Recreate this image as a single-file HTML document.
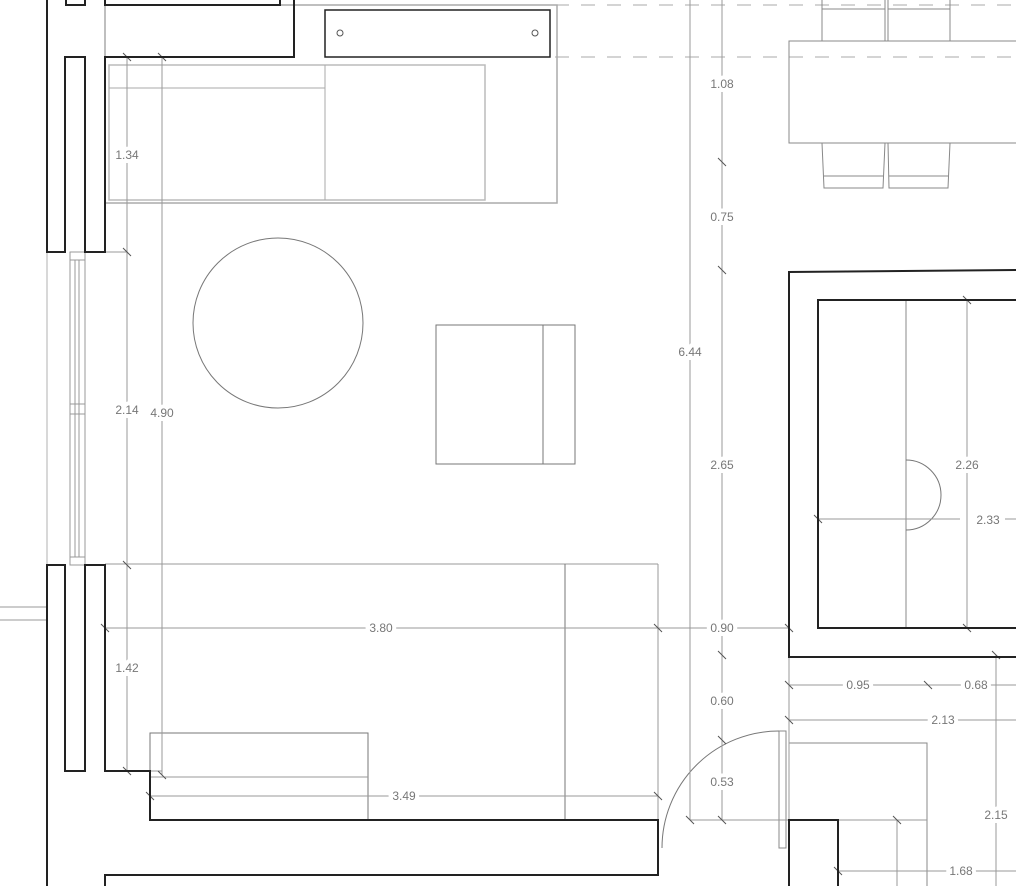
<!DOCTYPE html>
<html><head><meta charset="utf-8"><style>
html,body{margin:0;padding:0;background:#fff;}
svg{display:block}
text{font-family:"Liberation Sans",sans-serif;font-size:12px;fill:#777;text-anchor:middle;dominant-baseline:central;paint-order:stroke;stroke:#fff;stroke-width:8px;}
</style></head><body>
<svg width="1016" height="886" viewBox="0 0 1016 886" xmlns="http://www.w3.org/2000/svg">
<g fill="none" stroke="#999" stroke-width="1">
  <!-- dashed -->
  <line x1="555" y1="5" x2="1016" y2="5" stroke-dasharray="14,12" stroke="#aaa"/>
  <line x1="555" y1="57" x2="1016" y2="57" stroke-dasharray="14,12" stroke="#aaa"/>
  <line x1="294" y1="5" x2="555" y2="5"/>
  <!-- sofa -->
  <rect x="105" y="5" width="452" height="198" stroke="#aaa" stroke-width="1.5"/>
  <rect x="109" y="65" width="376" height="135" stroke="#bbb" stroke-width="1.5"/>
  <line x1="325" y1="65" x2="325" y2="200" stroke="#aaa"/>
  <line x1="109" y1="88" x2="325" y2="88" stroke="#aaa"/>
  <!-- circle table -->
  <circle cx="278" cy="323" r="85" stroke="#777"/>
  <!-- chair -->
  <rect x="436" y="325" width="139" height="139" stroke="#777"/>
  <line x1="543" y1="325" x2="543" y2="464" stroke="#777"/>
  <!-- bottom sofa -->
  <line x1="105" y1="564" x2="658" y2="564"/>
  <line x1="658" y1="564" x2="658" y2="820"/>
  <line x1="565" y1="564" x2="565" y2="820" stroke="#777"/>
  <rect x="150" y="733" width="218" height="87" stroke="#777"/>
  <line x1="150" y1="777" x2="368" y2="777"/>
  <!-- window -->
  <line x1="47" y1="252" x2="47" y2="565" stroke="#ccc" stroke-width="1.5"/>
  <rect x="70" y="252" width="15" height="313" stroke="#999"/>
  <line x1="75" y1="260" x2="75" y2="557"/><line x1="79" y1="260" x2="79" y2="557"/>
  <line x1="70" y1="260" x2="85" y2="260"/><line x1="70" y1="557" x2="85" y2="557"/>
  <line x1="70" y1="404" x2="85" y2="404"/><line x1="70" y1="414" x2="85" y2="414"/>
  <line x1="0" y1="607" x2="47" y2="607"/><line x1="0" y1="620" x2="47" y2="620"/>
  <!-- dining -->
  <rect x="789" y="41" width="240" height="102" stroke="#888"/>
  <path d="M822,0 V9 H885 V0 M822,9 L822,41 M885,9 L885,41 M888,0 V9 H950 V0 M888,9 L888,41 M950,9 L950,41" stroke="#888"/>
  <path d="M822,143 L824,188 H883 L885,143 M824,176 H883 M888,143 L889,188 H948 L950,143 M889,176 H948" stroke="#888"/>
  <!-- right room -->
  <line x1="906" y1="300" x2="906" y2="628" stroke="#888"/>
  <path d="M906,460 A35,35 0 0 1 906,530" stroke="#777"/>
  <line x1="818" y1="519" x2="960" y2="519"/>
  <line x1="1005" y1="519" x2="1016" y2="519"/>
  <line x1="967" y1="300" x2="967" y2="628"/>
  <!-- door -->
  <rect x="779" y="731" width="7" height="117" stroke="#888"/>
  <path d="M779,731 A117,117 0 0 0 662,848" stroke="#777"/>
  <rect x="789" y="743" width="138" height="77" stroke="#888"/>
  <line x1="927" y1="820" x2="927" y2="886" stroke="#888"/>
  <line x1="690" y1="820" x2="927" y2="820"/>
  <line x1="789" y1="657" x2="789" y2="820"/>
  <!-- dimension lines -->
  <line x1="127" y1="57" x2="127" y2="771"/>
  <line x1="162" y1="57" x2="162" y2="775"/>
  <line x1="690" y1="0" x2="690" y2="820"/>
  <line x1="722" y1="0" x2="722" y2="820"/>
  <line x1="105" y1="628" x2="789" y2="628"/>
  <line x1="150" y1="796" x2="658" y2="796"/>
  <line x1="789" y1="685" x2="1016" y2="685"/>
  <line x1="789" y1="720" x2="1016" y2="720"/>
  <line x1="996" y1="655" x2="996" y2="886"/>
  <line x1="838" y1="871" x2="1016" y2="871"/>
  <line x1="897" y1="820" x2="897" y2="886"/>
  <line x1="105" y1="252" x2="127" y2="252"/>
  <line x1="105" y1="771" x2="162" y2="771"/>
</g>
<!-- ticks -->
<g stroke="#555" stroke-width="1">
  <path d="M123,53 l8,8 M158,53 l8,8 M123,248 l8,8 M123,561 l8,8 M123,767 l8,8 M158,771 l8,8
  M718,158 l8,8 M718,266 l8,8 M718,651 l8,8 M718,736 l8,8 M718,816 l8,8
  M101,624 l8,8 M654,624 l8,8 M785,624 l8,8 M146,792 l8,8 M654,792 l8,8
  M785,681 l8,8 M924,681 l8,8 M785,716 l8,8 M992,651 l8,8 M834,867 l8,8
  M963,296 l8,8 M963,624 l8,8 M814,515 l8,8 M893,816 l8,8 M686,816 l8,8"/>
</g>
<!-- walls -->
<g fill="none" stroke="#222" stroke-width="2">
  <path d="M47,0 V252 H65 V57 H85 V252 H105 V57 H294 V0"/>
  <path d="M66,0 V5 H85 V0 M105,0 V5 H280 V0"/>
  <path d="M47,886 V565 H65 V771 H85 V565 H105 V771 H150 V820 H658 V875 H105 V886"/>
  <rect x="325" y="10" width="225" height="47" stroke-width="1.5"/>
  <path d="M1016,270 L789,272 V657 H1016"/>
  <path d="M1016,300 H818 V628 H1016"/>
  <path d="M789,886 V820 H838 V886"/>
</g>
<circle cx="340" cy="33" r="3" fill="none" stroke="#555"/>
<circle cx="535" cy="33" r="3" fill="none" stroke="#555"/>
<!-- labels -->
<text x="127" y="155">1.34</text>
<text x="127" y="410">2.14</text>
<text x="162" y="413">4.90</text>
<text x="127" y="668">1.42</text>
<text x="690" y="352">6.44</text>
<text x="722" y="84">1.08</text>
<text x="722" y="217">0.75</text>
<text x="722" y="465">2.65</text>
<text x="722" y="628">0.90</text>
<text x="722" y="701">0.60</text>
<text x="722" y="782">0.53</text>
<text x="381" y="628">3.80</text>
<text x="404" y="796">3.49</text>
<text x="858" y="685">0.95</text>
<text x="976" y="685">0.68</text>
<text x="943" y="720">2.13</text>
<text x="996" y="815">2.15</text>
<text x="961" y="871">1.68</text>
<text x="967" y="465">2.26</text>
<text x="988" y="520">2.33</text>
</svg>
</body></html>
